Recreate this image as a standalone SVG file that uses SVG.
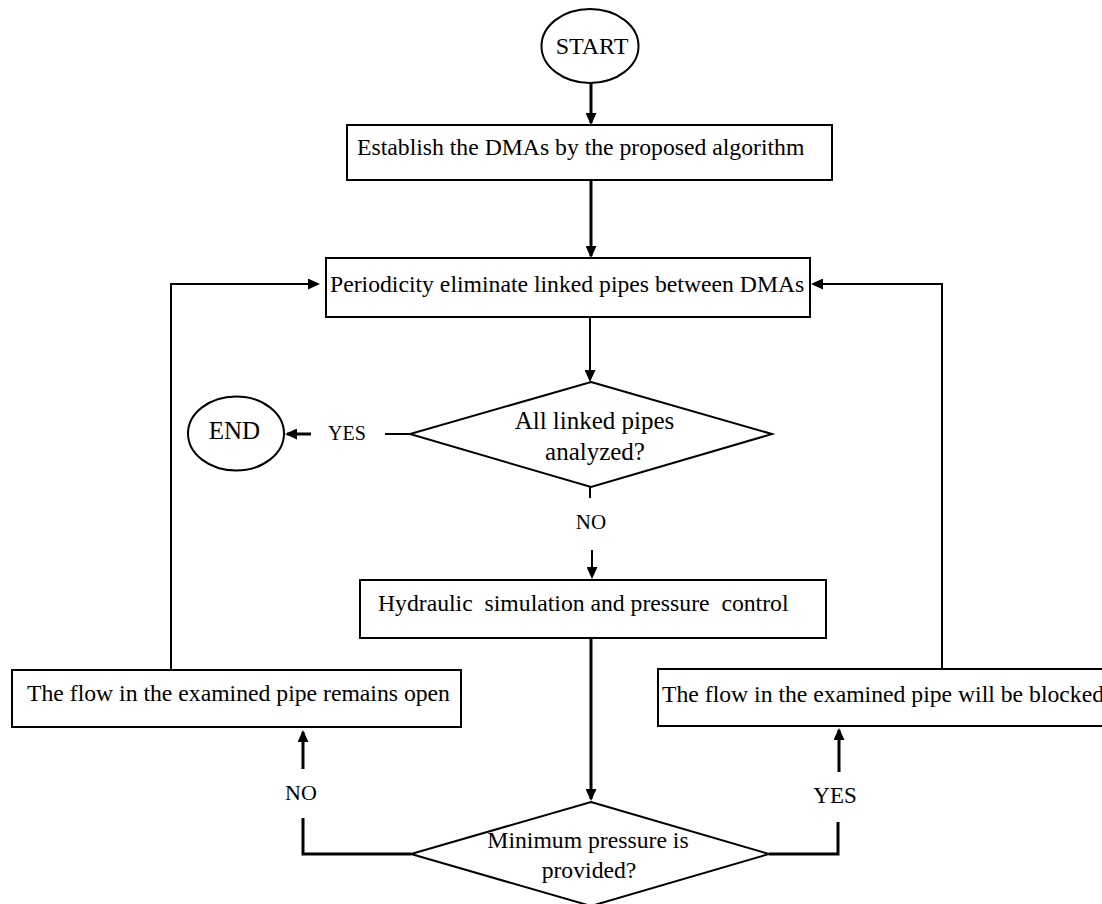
<svg xmlns="http://www.w3.org/2000/svg" width="1102" height="904" viewBox="0 0 1102 904" font-family="'Liberation Serif', 'Times New Roman', serif">
<style>
.shape{fill:#fff;stroke:#000;stroke-width:2}
.t{font-family:'Liberation Serif','Times New Roman',serif;fill:#000;font-size:23.7px}
.c{text-anchor:middle}
.ln{fill:none;stroke:#000;stroke-width:2}
.thick{stroke-width:3}
.arr{marker-end:url(#ah)}
</style>
<defs>
<marker id="ah" markerUnits="userSpaceOnUse" markerWidth="12" markerHeight="11" refX="10" refY="5.5" orient="auto">
<path d="M0,0 L12,5.5 L0,11 z" fill="#000"/>
</marker>
</defs>
<rect width="1102" height="904" fill="#fff"/>
<g id="connectors">
<path class="ln thick arr" d="M591,83 V123"/>
<path class="ln thick arr" d="M591,180 V256"/>
<path class="ln arr" d="M590,317 V380"/>
<path class="ln" d="M410,434 H385"/>
<path class="ln thick arr" d="M311,434 H287"/>
<path class="ln" d="M590,487 V498"/>
<path class="ln arr" d="M592,550 V577"/>
<path class="ln thick arr" d="M591,637 V799"/>
<path class="ln thick" d="M411,854 H303 V818"/>
<path class="ln thick arr" d="M303,769 V732"/>
<path class="ln thick" d="M769,854 H838 V822"/>
<path class="ln thick arr" d="M839,772 V730"/>
<path class="ln arr" d="M171,670 V284 H318"/>
<path class="ln arr" d="M942,669 V284 H813"/>
</g>
<g id="start">
<ellipse class="shape" cx="590" cy="46" rx="48.5" ry="37"/>
<text class="t c" x="592" y="54" style="font-size:24px">START</text>
</g>
<g id="establish">
<rect class="shape" x="347" y="125" width="485" height="55"/>
<text class="t" x="357" y="155">Establish the DMAs by the proposed algorithm</text>
</g>
<g id="periodicity">
<rect class="shape" x="326" y="258" width="484" height="59"/>
<text class="t" x="330" y="292">Periodicity eliminate linked pipes between DMAs</text>
</g>
<g id="decision1">
<polygon class="shape" points="591,382 772,434 591,487 410,434"/>
<text class="t c" x="594.5" y="429" style="font-size:25px">All linked pipes</text>
<text class="t c" x="595" y="460" style="font-size:25px">analyzed?</text>
</g>
<g id="end">
<ellipse class="shape" cx="236" cy="433.5" rx="48" ry="37"/>
<text class="t c" x="234.5" y="438.5" style="font-size:25px">END</text>
</g>
<g id="labels">
<text class="t c" x="347" y="440" style="font-size:20px">YES</text>
<text class="t c" x="591" y="529" style="font-size:21px">NO</text>
<text class="t c" x="301" y="800" style="font-size:22px">NO</text>
<text class="t c" x="835" y="803" style="font-size:23px">YES</text>
</g>
<g id="hydraulic">
<rect class="shape" x="360" y="580" width="466" height="58"/>
<text class="t" x="378" y="611" xml:space="preserve">Hydraulic  simulation and pressure  control</text>
</g>
<g id="open">
<rect class="shape" x="12" y="670" width="449" height="57"/>
<text class="t" x="27" y="701">The flow in the examined pipe remains open</text>
</g>
<g id="blocked">
<rect class="shape" x="658" y="669" width="460" height="57"/>
<text class="t" x="662" y="702">The flow in the examined pipe will be blocked</text>
</g>
<g id="decision2">
<polygon class="shape" points="591,802 769,854 591,906 411,854"/>
<text class="t c" x="588" y="848">Minimum pressure is</text>
<text class="t c" x="589" y="878">provided?</text>
</g>
</svg>
